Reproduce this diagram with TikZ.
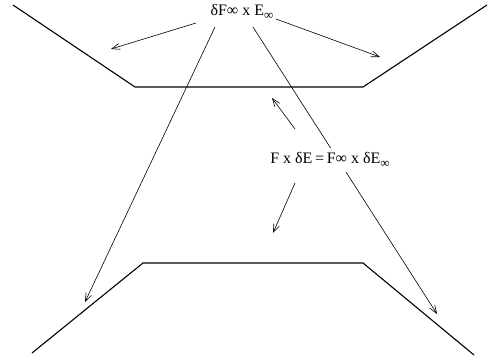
\documentclass[tikz,border=0pt]{standalone}
\usepackage{fontspec}
\setmainfont{Liberation Serif}
\usetikzlibrary{arrows.meta}
\newcommand{\infsub}{\raisebox{-3.5pt}{\fontsize{13}{13}\selectfont ∞}}
\tikzset{
  wall/.style={line width=1.1pt, line join=miter},
  arr/.style={line width=0.6pt, -{Straight Barb[length=8pt,width=6pt]}},
  lbl/.style={font=\fontsize{16}{16}\selectfont, inner sep=1pt},
}
\begin{document}
\begin{tikzpicture}[x=1pt,y=-1pt]
\useasboundingbox (0,0) rectangle (488,362);
% walls
\coordinate (t1) at (13,5);
\coordinate (t2) at (135,87);
\coordinate (t3) at (363,87);
\coordinate (t4) at (487,5);
\coordinate (b1) at (32,353);
\coordinate (b2) at (143,263);
\coordinate (b3) at (363,263);
\coordinate (b4) at (474,355);
\draw[wall] (t1) -- (t2) -- (t3) -- (t4);
\draw[wall] (b1) -- (b2) -- (b3) -- (b4);
% top label
\node[lbl] (top) at (242,12) {δF∞ x E\infsub};
\coordinate (a1) at (111,49);
\coordinate (a2) at (380,57);
\coordinate (a3) at (85,302);
\coordinate (a4) at (437,314);
\draw[arr] ([shift={(-46,11)}]top.center) -- (a1);
\draw[arr] ([shift={(34,7)}]top.center) -- (a2);
\draw[arr] ([shift={(-27,15)}]top.center) -- (a3);
\draw[arr] ([shift={(11,15)}]top.center) -- (a4);
% middle label (white fill breaks the long line)
\node[lbl, fill=white, inner ysep=5pt, inner xsep=1pt] (mid) at (330,160) {F x δE\,=\,F∞ x δE\infsub};
\coordinate (m1) at (272,98);
\coordinate (m2) at (273,233);
\draw[arr] ([shift={(-35,-31)}]mid.center) -- (m1);
\draw[arr] ([shift={(-35,23)}]mid.center) -- (m2);
\end{tikzpicture}
\end{document}
